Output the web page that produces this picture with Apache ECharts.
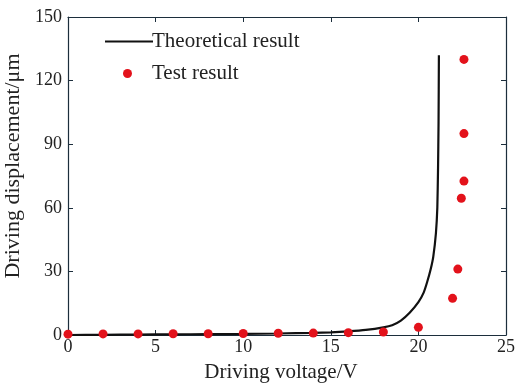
<!DOCTYPE html>
<html><head><meta charset="utf-8">
<script src="https://cdn.jsdelivr.net/npm/echarts@6/dist/echarts.min.js"></script>
<style>html,body{margin:0;padding:0;background:#fff}#c{width:515px;height:385px}</style>
</head><body><div id="c"></div>
<script>
var theoryX = [0,2,4,6,8,10,12,14,15,16,17,18,18.5,19,19.5,20,20.3,20.5,20.7,20.85,21,21.08,21.12,21.15,21.17];
var theoryY = [0,0.1,0.2,0.3,0.4,0.5,0.7,1.0,1.2,1.7,2.4,3.6,4.6,6.8,10.5,15.5,20,25,31,37,48,60,78,100,132];
var testX = [0,2,4,6,8,10,12,14,16,18,20,21.95,22.25,22.45,22.6,22.6,22.6];
var testY = [0.4,0.5,0.5,0.6,0.6,0.7,0.8,0.9,1.1,1.4,3.6,17.3,31.1,64.5,72.6,95,130];
var xTicks = [0,5,10,15,20,25];
var yTicks = [0,30,60,90,120,150];

var font = '"Liberation Serif","Times New Roman",serif';
var axisColor = '#1c2e3c';
function zip(a,b){return a.map(function(v,i){return [v,b[i]];});}
var chart = echarts.init(document.getElementById('c'));
var axBase = {
  axisLine:{show:true,onZero:false,lineStyle:{color:axisColor,width:1.2}},
  axisTick:{show:true,inside:true,length:5,lineStyle:{color:axisColor}},
  splitLine:{show:false}
};
chart.setOption({
  animation:false,
  backgroundColor:'#fff',
  grid:{left:68,right:9,top:17,bottom:50,containLabel:false,outerBoundsMode:'none'},
  legend:[{
    data:[{name:'Theoretical result',icon:'rect'}],left:100,top:26,itemWidth:48,itemHeight:2,itemGap:0,
    itemStyle:{color:'#111'},
    textStyle:{fontFamily:font,fontSize:21,color:'#222',padding:[0,0,0,-6]}
  },{
    data:[{name:'Test result',icon:'circle'}],left:118,top:58,itemWidth:9,itemHeight:9,
    textStyle:{fontFamily:font,fontSize:21,color:'#222',padding:[0,0,0,15]}
  }],
  xAxis:[Object.assign({type:'value',min:0,max:25,interval:xTicks[1]-xTicks[0],name:'Driving voltage/V',nameLocation:'middle',nameGap:27,
    nameTextStyle:{fontFamily:font,fontSize:21,color:'#222',padding:[0,12,0,0]},
    axisLabel:{fontFamily:font,fontSize:18,color:'#222',margin:3}},axBase),
    Object.assign({type:'value',min:0,max:25,interval:5,position:'top',axisLabel:{show:false}},axBase)],
  yAxis:[Object.assign({type:'value',min:0,max:150,interval:yTicks[1]-yTicks[0],name:'Driving displacement/μm',nameLocation:'middle',nameGap:37,
    nameTextStyle:{fontFamily:font,fontSize:22,color:'#222',padding:[0,0,0,20]},
    axisLabel:{fontFamily:font,fontSize:18,color:'#222',margin:6}},axBase),
    Object.assign({type:'value',min:0,max:150,interval:30,position:'right',axisLabel:{show:false}},axBase)],
  series:[{
    name:'Theoretical result',type:'line',data:zip(theoryX,theoryY),showSymbol:false,symbol:'none',
    smooth:0.15,lineStyle:{color:'#111',width:2.2},itemStyle:{color:'#111'},z:2
  },{
    name:'Test result',type:'scatter',data:zip(testX,testY),symbolSize:9,
    itemStyle:{color:'#e3121b',opacity:1},z:3
  }]
});
</script></body></html>
